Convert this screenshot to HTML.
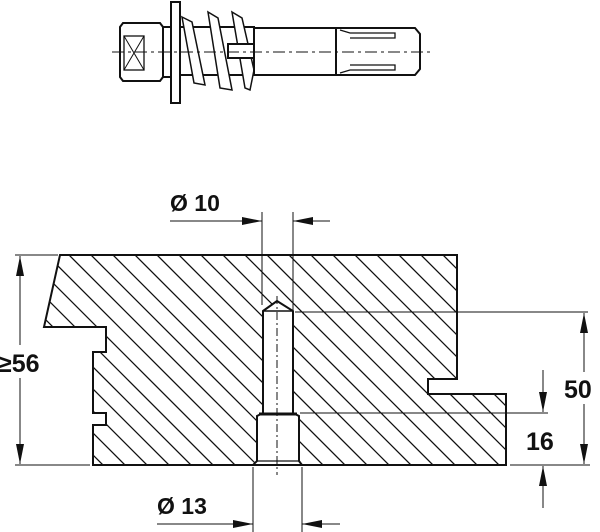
<!DOCTYPE html>
<html><head><meta charset="utf-8"><style>
html,body{margin:0;padding:0;background:#fff;}
svg{display:block;}
text{font-family:"Liberation Sans",Arial,sans-serif;font-weight:bold;fill:#111;}
</style></head><body>
<svg width="600" height="532" viewBox="0 0 600 532" xmlns="http://www.w3.org/2000/svg">
<defs>
<clipPath id="c"><path d="M60,255 L457,255 L457,379 L428,379 L428,394 L506,394 L506,465 L93,465 L93,425 L106,425 L106,413 L93,413 L93,352 L106,352 L106,327 L44,327 Z"/></clipPath>
<marker id="a" viewBox="0 0 20 8" refX="20" refY="4" markerWidth="20" markerHeight="8" markerUnits="userSpaceOnUse" orient="auto">
<path d="M0,0 L20,4 L0,8 z" fill="#111"/></marker>
</defs>

<!-- screw -->
<g stroke="#111" fill="#fff" stroke-width="2">
<path d="M123,23 L160,23 L163,27 L163,77 L160,81 L123,81 L120,77 L120,27 Z"/>
<rect x="124" y="36" width="20" height="34" stroke-width="1.3"/>
<path d="M124,36 L144,70 M144,36 L124,70" stroke-width="1"/>
<rect x="163" y="27" width="8" height="50"/>
<rect x="171" y="2" width="9" height="101"/>
<rect x="180" y="27" width="74" height="48"/>
<path d="M182,17 L192,22 L205,85 L194,83 Z M208,12 L218,18 L232,90 L220,88 Z M232,12 L242,18 L254,70 L250,90 L245,88 Z" stroke-width="1.5"/>
<path d="M228,44 L254,44 L254,58 L228,58 Z"/>
<rect x="254" y="28" width="82" height="47"/>
<path d="M336,28 L415,28 L420,34 L420,69 L415,75 L336,75 Z"/>
<path d="M340,30 L350,33 L395,33 L395,38 L350,38 M340,73 L350,70 L395,70 L395,65 L350,65" stroke-width="1.3" fill="none"/>
<line x1="112" y1="52" x2="432" y2="52" stroke-width="1" stroke-dasharray="12,4,3,4"/>
</g>

<!-- profile -->
<g clip-path="url(#c)" stroke="#111" stroke-width="1.3">
<path d="M-210,240l240,240M-188,240l240,240M-166,240l240,240M-144,240l240,240M-122,240l240,240M-100,240l240,240M-78,240l240,240M-56,240l240,240M-34,240l240,240M-12,240l240,240M10,240l240,240M32,240l240,240M54,240l240,240M76,240l240,240M98,240l240,240M120,240l240,240M142,240l240,240M164,240l240,240M186,240l240,240M208,240l240,240M230,240l240,240M252,240l240,240M274,240l240,240M296,240l240,240M318,240l240,240M340,240l240,240M362,240l240,240M384,240l240,240M406,240l240,240M428,240l240,240M450,240l240,240M472,240l240,240M494,240l240,240"/>
</g>
<path d="M60,255 L457,255 L457,379 L428,379 L428,394 L506,394 L506,465 L93,465 L93,425 L106,425 L106,413 L93,413 L93,352 L106,352 L106,327 L44,327 Z" fill="none" stroke="#111" stroke-width="2"/>
<!-- hole -->
<path d="M263,311 L277,301 L293,311 L293,413 L299,416 L299,461 L302,465 L253,465 L257,461 L257,416 L263,413 Z" fill="#fff" stroke="#111" stroke-width="2"/>
<line x1="263" y1="311" x2="293" y2="311" stroke="#111" stroke-width="1.5"/>
<line x1="259" y1="414" x2="297" y2="414" stroke="#111" stroke-width="3"/>
<line x1="257" y1="461" x2="299" y2="461" stroke="#111" stroke-width="1.2"/>
<line x1="277" y1="296" x2="277" y2="475" stroke="#111" stroke-width="1" stroke-dasharray="8,3,2,3"/>

<!-- dims -->
<g stroke="#111" stroke-width="1" fill="none">
<line x1="262" y1="212" x2="262" y2="305"/>
<line x1="293" y1="212" x2="293" y2="310"/>
<line x1="170" y1="221" x2="262" y2="221" marker-end="url(#a)"/>
<line x1="330" y1="221" x2="293" y2="221" marker-end="url(#a)"/>
<line x1="253" y1="467" x2="253" y2="532"/>
<line x1="302" y1="467" x2="302" y2="532"/>
<line x1="157" y1="524" x2="253" y2="524" marker-end="url(#a)"/>
<line x1="340" y1="524" x2="302" y2="524" marker-end="url(#a)"/>
<line x1="15" y1="255" x2="58" y2="255"/>
<line x1="15" y1="465" x2="90" y2="465"/>
<line x1="20" y1="345" x2="20" y2="256" marker-end="url(#a)"/>
<line x1="20" y1="378" x2="20" y2="464" marker-end="url(#a)"/>
<line x1="295" y1="312" x2="588" y2="312"/>
<line x1="300" y1="413" x2="548" y2="413"/>
<line x1="510" y1="465" x2="590" y2="465"/>
<line x1="584" y1="372" x2="584" y2="313" marker-end="url(#a)"/>
<line x1="584" y1="404" x2="584" y2="464" marker-end="url(#a)"/>
<line x1="543" y1="370" x2="543" y2="412" marker-end="url(#a)"/>
<line x1="543" y1="508" x2="543" y2="466" marker-end="url(#a)"/>
</g>
<text x="170" y="211" font-size="23">Ø 10</text>
<text x="157" y="514" font-size="23">Ø 13</text>
<text x="-2" y="372" font-size="25">≥56</text>
<text x="564" y="398" font-size="25">50</text>
<text x="526" y="450" font-size="25">16</text>
</svg>
</body></html>
